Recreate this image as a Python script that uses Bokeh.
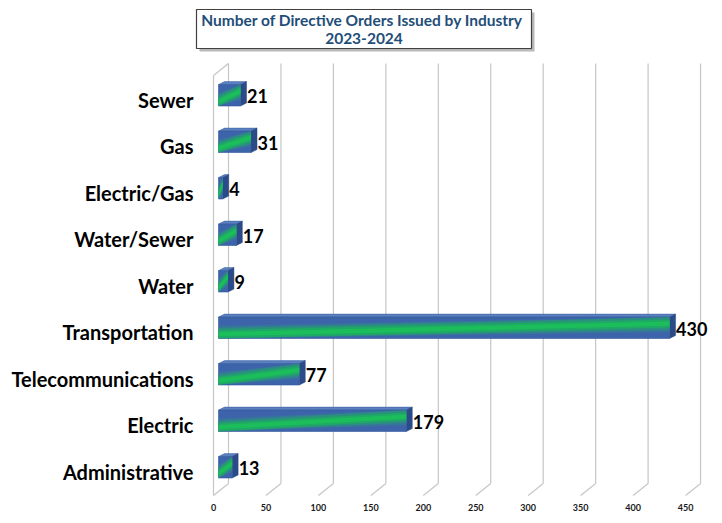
from bokeh.plotting import figure
from bokeh.models import ColumnDataSource, FixedTicker, Range1d
from bokeh.core.properties import value
from bokeh.embed import file_html
from bokeh.resources import INLINE

# ---------------- data ----------------
categories = ["Administrative", "Electric", "Telecommunications", "Transportation",
              "Water", "Water/Sewer", "Electric/Gas", "Gas", "Sewer"]
counts = [13, 179, 77, 430, 9, 17, 4, 31, 21]
x_ticks = [0, 50, 100, 150, 200, 250, 300, 350, 400, 450]
title_line1 = "Number of Directive Orders Issued  by Industry"
title_line2 = "2023-2024"

# ---------------- geometry helpers (page pixel space) ----------------
PX_PER_UNIT = 1.049
X0_PX = 213.0
ROW_PX = 46.5
Y0_PX = 471.0


def ux(px):
    return px / PX_PER_UNIT


def uy(px):
    return px / ROW_PX


def X(px):
    return (px - X0_PX) / PX_PER_UNIT


def Y(py):
    return (Y0_PX - py) / ROW_PX


W, H = 720, 520
MB_L, MB_R, MB_T, MB_B = 194, 8, 0, 22

p = figure(width=W, height=H, output_backend="svg", toolbar_location=None,
           x_range=Range1d(X(MB_L), X(W - MB_R)),
           y_range=Range1d(Y(H - MB_B), Y(MB_T)),
           min_border_left=MB_L, min_border_right=MB_R,
           min_border_top=MB_T, min_border_bottom=MB_B)
p.outline_line_color = None
p.xgrid.visible = False
p.ygrid.visible = False
p.background_fill_color = "white"
p.border_fill_color = "white"

# ---------------- axes ----------------
FONT = "Lato"
p.yaxis.ticker = FixedTicker(ticks=list(range(len(categories))))
p.yaxis.major_label_overrides = {i: c for i, c in enumerate(categories)}
p.yaxis.major_label_text_font = FONT
p.yaxis.major_label_text_font_style = "bold"
p.yaxis.major_label_text_font_size = "20px"
p.yaxis.major_label_text_color = "black"
p.yaxis.major_label_standoff = -5
p.yaxis.axis_line_color = None
p.yaxis.major_tick_line_color = None
p.yaxis.minor_tick_line_color = None

p.xaxis.ticker = FixedTicker(ticks=x_ticks)
p.xaxis.major_label_text_font = FONT
p.xaxis.major_label_text_font_style = "bold"
p.xaxis.major_label_text_font_size = "9px"
p.xaxis.major_label_text_color = "#1a1a1a"
p.xaxis.major_label_standoff = -1
p.xaxis.axis_line_color = None
p.xaxis.major_tick_line_color = None
p.xaxis.minor_tick_line_color = None

# ---------------- 3D gridlines ----------------
G = ux(15)
top_back, bot_back, bot_front = Y(63), Y(483), Y(495)
gx0, gy0, gx1, gy1 = [], [], [], []
for t in x_ticks:
    gx0 += [t + G, t + G]
    gy0 += [top_back, bot_back]
    gx1 += [t + G, t]
    gy1 += [bot_back, bot_front]
# left wall
gx0 += [0, 0]
gy0 += [Y(75), Y(75)]
gx1 += [0, G]
gy1 += [bot_front, top_back]
p.segment(x0=gx0, y0=gy0, x1=gx1, y1=gy1, line_color="#C6C6C6", line_width=1.2)

# ---------------- 3D bars ----------------
B = ux(5)           # front-face offset from wall
HH = 0.46           # bar height (row units)
OFF = 0.09          # bar centre above label centre
DX, DY = ux(6), uy(3)

left = [B] * len(counts)
right = [B + v for v in counts]
bottom = [i + OFF - HH / 2 for i in range(len(counts))]
top = [i + OFF + HH / 2 for i in range(len(counts))]

# top faces
p.patches(xs=[[l, l + DX, r + DX, r] for l, r in zip(left, right)],
          ys=[[t, t + DY, t + DY, t] for t in top],
          fill_color="#5A80C0", line_color="#3B5E9E", line_width=0.5)
# side faces
p.patches(xs=[[r, r + DX, r + DX, r] for r in right],
          ys=[[b, b + DY, t + DY, t] for b, t in zip(bottom, top)],
          fill_color="#2B4A88", line_color="#2B4A88", line_width=0.5)
# front faces
p.quad(left=left, right=right, bottom=bottom, top=top,
       fill_color="#3D64AB", line_color="#34599C", line_width=0.6)


def band(thick, c0=0.2, c1=0.7):
    xs, ys = [], []
    for l, r, b in zip(left, right, bottom):
        a0, a1 = b + HH * c0, b + HH * c1
        t = HH * thick / 2
        lo0, hi0 = max(a0 - t, b), min(a0 + t, b + HH)
        lo1, hi1 = max(a1 - t, b), min(a1 + t, b + HH)
        xs.append([l, r, r, l])
        ys.append([lo0, lo1, hi1, hi0])
    return xs, ys


for thick, col, alpha in [(0.80, "#2E8C84", 0.45), (0.58, "#23A46C", 0.55),
                          (0.38, "#1CB05C", 0.8), (0.20, "#1CC05A", 0.9)]:
    bx, by = band(thick)
    p.patches(xs=bx, ys=by, fill_color=col, fill_alpha=alpha, line_color=None)

# ---------------- value labels ----------------
lab = ColumnDataSource(dict(x=[B + v + ux(6.5) for v in counts],
                            y=[i + 0.07 for i in range(len(counts))],
                            t=[str(v) for v in counts]))
p.text(x="x", y="y", text="t", source=lab, text_font=value(FONT),
       text_font_style="bold", text_font_size="18px", text_color="black",
       text_align="left", text_baseline="middle")

# ---------------- title box ----------------
bx0, bx1, by0, by1 = X(196), X(531), Y(48), Y(9)
sx, sy = ux(3), uy(3)
p.quad(left=[bx0 + sx], right=[bx1 + sx], top=[by1 - sy], bottom=[by0 - sy],
       fill_color="#8A8A8A", fill_alpha=0.6, line_color=None)
p.quad(left=[bx0], right=[bx1], top=[by1], bottom=[by0],
       fill_color="white", line_color="#404040", line_width=1.2)
p.text(x=[(bx0 + bx1) / 2, (bx0 + bx1) / 2], y=[Y(19), Y(38)],
       text=[title_line1, title_line2], text_font=value(FONT),
       text_font_style="bold", text_font_size="15.5px", text_color="#1F4E79",
       text_align="center", text_baseline="middle")

open("out.html", "w").write(file_html(p, INLINE))
